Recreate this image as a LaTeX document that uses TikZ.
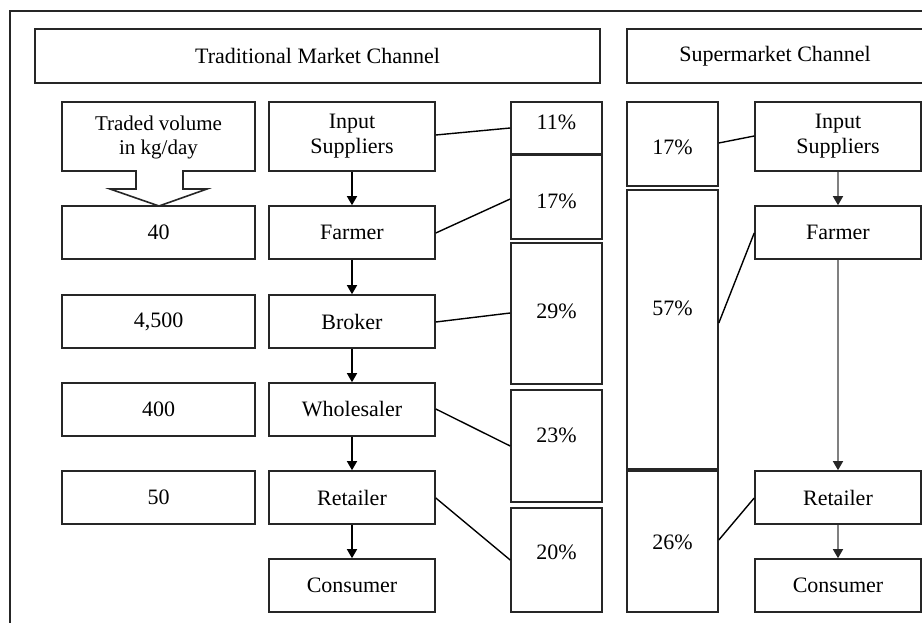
\documentclass[tikz,border=0pt]{standalone}
\usepackage{fontspec}
\setmainfont{Liberation Serif}
\usetikzlibrary{arrows.meta}
\begin{document}
\begin{tikzpicture}[x=1pt,y=-1pt,
  frame/.style={line width=1.6pt, draw=black!85},
  box/.style={draw=black!85, line width=1.6pt, inner sep=0pt, align=center,
              font=\fontsize{22}{26}\selectfont},
  lbl/.style={inner sep=0pt, align=center, font=\fontsize{22}{26}\selectfont},
  link/.style={line width=1.4pt, draw=black},
  flow/.style={line width=1.4pt, draw=black, -{Triangle[length=9pt,width=10pt]}},
  sflow/.style={line width=1.4pt, draw=gray, -{Triangle[length=9pt,width=10pt,color=black!85]}}
]
\useasboundingbox (0,0) rectangle (922,623);
\clip (0,0) rectangle (922,623);
\fill[white] (0,0) rectangle (922,623);

% outer frame
\draw[frame] (10,650) -- (10,11) -- (950,11);

% channel titles
\node[box, minimum width=565pt, minimum height=54pt] (tTitle) at (317.5,56) {Traditional Market Channel};
\node[box, minimum width=296pt, minimum height=54pt] (sTitle) at (775,56) {Supermarket Channel};

% traded volume callout
\draw[draw=black!85, line width=1.6pt, line join=miter]
  (62,102) -- (255,102) -- (255,171) -- (183,171) -- (183,189) -- (207,189)
  -- (159,206) -- (110,189) -- (136,189) -- (136,171) -- (62,171) -- cycle;
\node[lbl, font=\fontsize{21}{24}\selectfont] (tv) at (158.5,137) {Traded volume\\in kg/day};

% traded volumes
\foreach \nm/\y/\v in {v40/232.5/40, v4500/321.5/{4,500}, v400/409.5/400, v50/497.5/50}
  \node[box, minimum width=193pt, minimum height=53pt] (\nm) at (158.5,\y) {\v};

% traditional chain
\node[box, minimum width=166pt, minimum height=69pt] (isT) at (352,136.5) {Input\\[-1pt]Suppliers};
\node[box, minimum width=166pt, minimum height=53pt] (faT) at (352,232.5) {Farmer};
\node[box, minimum width=166pt, minimum height=53pt] (brT) at (352,321.5) {Broker};
\node[box, minimum width=166pt, minimum height=53pt] (whT) at (352,409.5) {Wholesaler};
\node[box, minimum width=166pt, minimum height=53pt] (reT) at (352,497.5) {Retailer};
\node[box, minimum width=166pt, minimum height=53pt] (coT) at (352,585.5) {Consumer};

% traditional shares
\node[box, minimum width=91pt, minimum height=52.3pt] (p11) at (556.5,128.15) {};
\node[box, minimum width=91pt, minimum height=83.5pt] (p17) at (556.5,197.25) {};
\node[box, minimum width=91pt, minimum height=141pt] (p29) at (556.5,313.5) {};
\node[box, minimum width=91pt, minimum height=112pt] (p23) at (556.5,446) {};
\node[box, minimum width=91pt, minimum height=104pt] (p20) at (556.5,560) {};
\node[lbl] (t11) at (556.5,122) {11\%};
\node[lbl] (t17) at (556.5,201.5) {17\%};
\node[lbl] (t29) at (556.5,311.5) {29\%};
\node[lbl] (t23) at (556.5,435) {23\%};
\node[lbl] (t20) at (556.5,552) {20\%};

% supermarket shares
\node[box, minimum width=91pt, minimum height=84pt] (q17) at (672.5,144) {};
\node[box, minimum width=91pt, minimum height=279pt] (q57) at (672.5,329.5) {};
\node[box, minimum width=91pt, minimum height=141pt] (q26) at (672.5,541.5) {};
\node[lbl] (u17) at (672.5,147) {17\%};
\node[lbl] (u57) at (672.5,308) {57\%};
\node[lbl] (u26) at (672.5,542) {26\%};

% supermarket chain
\node[box, minimum width=166pt, minimum height=69pt] (isS) at (838,136.5) {Input\\[-1pt]Suppliers};
\node[box, minimum width=166pt, minimum height=53pt] (faS) at (838,232.5) {Farmer};
\node[box, minimum width=166pt, minimum height=53pt] (reS) at (838,497.5) {Retailer};
\node[box, minimum width=166pt, minimum height=53pt] (coS) at (838,585.5) {Consumer};

% product flows
\draw[flow] (isT) -- (faT);
\draw[flow] (faT) -- (brT);
\draw[flow] (brT) -- (whT);
\draw[flow] (whT) -- (reT);
\draw[flow] (reT) -- (coT);
\draw[sflow] (isS) -- (faS);
\draw[sflow] (faS) -- (reS);
\draw[sflow] (reS) -- (coS);

% links from actors to their shares
\draw[link] (isT.east |- 0,135) -- (p11.west |- 0,128);
\draw[link] (faT.east |- 0,233) -- (p17.west |- 0,199);
\draw[link] (brT.east |- 0,322) -- (p29.west |- 0,313);
\draw[link] (whT.east |- 0,409) -- (p23.west |- 0,446);
\draw[link] (reT.east |- 0,498) -- (p20.west |- 0,560);
\draw[link] (q17.east |- 0,143) -- (isS.west |- 0,136);
\draw[link] (q57.east |- 0,323) -- (faS.west |- 0,233);
\draw[link] (q26.east |- 0,540) -- (reS.west |- 0,498);
\end{tikzpicture}
\end{document}
